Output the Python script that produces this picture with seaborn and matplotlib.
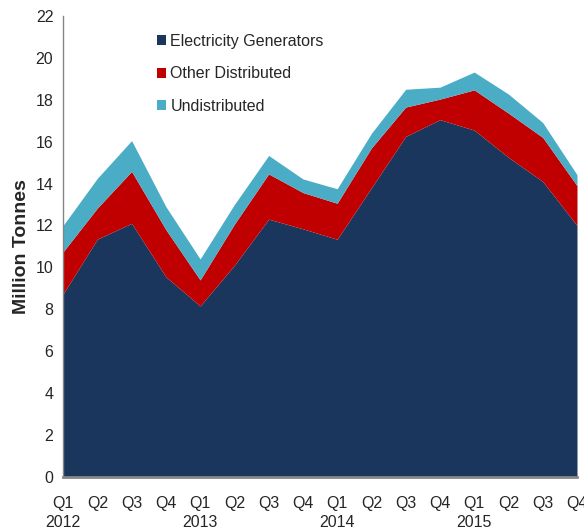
import numpy as np
import pandas as pd
import matplotlib
matplotlib.use("Agg")
import matplotlib.pyplot as plt
from matplotlib.patches import Patch
from matplotlib.ticker import MultipleLocator
import seaborn as sns

# quarterly consumption, million tonnes
quarters = ["Q1", "Q2", "Q3", "Q4"] * 4
years = ["2012", "2013", "2014", "2015"]
electricity = [8.73, 11.35, 12.1, 9.55, 8.16, 10.1, 12.3, 11.84,
               11.34, 13.8, 16.25, 17.05, 16.55, 15.25, 14.1, 12.0]
other_distributed = [2.01, 1.48, 2.48, 2.25, 1.24, 1.96, 2.16, 1.73,
                     1.72, 1.9, 1.4, 0.98, 1.92, 2.11, 2.1, 1.9]
undistributed = [1.26, 1.42, 1.47, 1.1, 1.0, 0.94, 0.88, 0.65,
                 0.69, 0.7, 0.85, 0.57, 0.85, 0.91, 0.71, 0.52]

series_names = ["Electricity Generators", "Other Distributed", "Undistributed"]
colors = ["#1a365c", "#c00000", "#4bacc6"]

df = pd.DataFrame({
    series_names[0]: electricity,
    series_names[1]: other_distributed,
    series_names[2]: undistributed,
})

sns.set_style("white")
plt.rcParams['font.family'] = ['Liberation Sans', 'DejaVu Sans']

fig, ax = plt.subplots(figsize=(5.84, 5.31), dpi=100)
fig.subplots_adjust(left=0.108, right=0.988, top=0.970, bottom=0.102)

x = np.arange(len(df))
ax.stackplot(x, df.T.values, colors=colors, linewidth=0)

ax.set_xlim(0, len(df) - 1)
ax.set_ylim(0, 22)
ax.yaxis.set_major_locator(MultipleLocator(2))

# x labels: quarter on every point, year under each Q1
labels = []
for i, q in enumerate(quarters):
    if i % 4 == 0:
        labels.append(q + "\n" + years[i // 4])
    else:
        labels.append(q)
ax.set_xticks(x)
ax.set_xticklabels(labels, fontsize=11.5, linespacing=1.3, va="top")
ax.set_xticks(np.arange(0, len(df), 3), minor=True)
ax.tick_params(axis="x", which="major", length=0, pad=14)
ax.tick_params(axis="x", which="minor", length=5, width=1.2, color="#868686",
               direction="out")
ax.tick_params(axis="y", length=4, width=1, color="#868686", direction="out",
               labelsize=11.5, pad=3)

for side in ["top", "right"]:
    ax.spines[side].set_visible(False)
for side in ["left", "bottom"]:
    ax.spines[side].set_color("#868686")
ax.spines["bottom"].set_linewidth(2)
ax.spines["left"].set_linewidth(1)

ax.set_ylabel("Million Tonnes", fontsize=14, fontweight="bold", labelpad=4)

handles = [Patch(facecolor=c, edgecolor="none") for c in colors]
ax.legend(handles, series_names, loc="upper left", bbox_to_anchor=(0.17, 0.975),
          frameon=False, fontsize=11.5, handlelength=0.6, handleheight=0.6,
          handletextpad=0.25, labelspacing=1.1, borderaxespad=0)

plt.savefig("out.png", dpi=100)
